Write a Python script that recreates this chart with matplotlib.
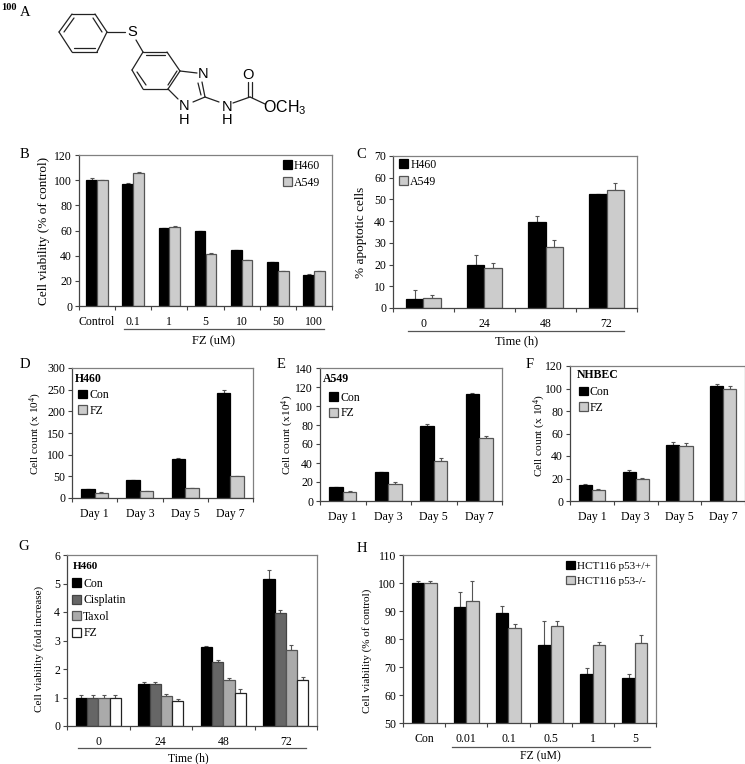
import numpy as np
import matplotlib
matplotlib.use("Agg")
import matplotlib.pyplot as plt

plt.rcParams["font.family"] = ["Liberation Serif", "DejaVu Serif"]
plt.rcParams["mathtext.default"] = "regular"

W, H = 745, 764
BLACK = "#000000"
GRAY = "#cccccc"
AXIS = "#808080"

# panel B
b_labels = ["Control", "0.1", "1", "5", "10", "50", "100"]
b_h460 = [100, 97, 62, 59.5, 44.5, 35, 25]
b_a549 = [100, 106, 63, 41.5, 36.5, 27.5, 27.5]
b_h460_err = [1.5, 1, 0.3, 0.5, 0, 0, 0.5]
b_a549_err = [0, 0.5, 0.5, 0.3, 0.2, 0, 0.5]

# panel C
c_labels = ["0", "24", "48", "72"]
c_h460 = [4, 19.7, 39.7, 52.3]
c_a549 = [4.6, 18.3, 28.3, 54.5]
c_h460_err = [4.2, 4.8, 2.8, 0.3]
c_a549_err = [1.6, 2.2, 3, 3]

days = ["Day 1", "Day 3", "Day 5", "Day 7"]

# panel D
d_con = [20, 41, 91, 242]
d_fz = [12, 16, 22, 50]
d_con_err = [1.5, 0, 1.5, 8]
d_fz_err = [1, 0.5, 0.5, 1.5]

# panel E
e_con = [15, 30.5, 78.5, 113]
e_fz = [10, 18, 42.5, 66]
e_con_err = [0, 0.5, 3, 0.7]
e_fz_err = [0.5, 2, 2.5, 2]

# panel F
f_con = [14.5, 25.5, 50, 102.5]
f_fz = [9.5, 20, 49, 99.5]
f_con_err = [0.5, 1.8, 2.2, 1.8]
f_fz_err = [0.8, 0.5, 3, 3]

# panel G
g_labels = ["0", "24", "48", "72"]
g_con = [1, 1.47, 2.77, 5.17]
g_cis = [1, 1.47, 2.25, 3.95]
g_tax = [1, 1.05, 1.63, 2.65]
g_fz = [1, 0.86, 1.17, 1.63]
g_con_err = [0.1, 0.07, 0.05, 0.32]
g_cis_err = [0.08, 0.07, 0.05, 0.12]
g_tax_err = [0.1, 0.07, 0.07, 0.2]
g_fz_err = [0.09, 0.07, 0.12, 0.1]

# panel H
h_labels = ["Con", "0.01", "0.1", "0.5", "1", "5"]
h_wt = [100, 91.3, 89.3, 78, 67.5, 66]
h_ko = [100, 93.5, 83.8, 84.7, 77.8, 78.7]
h_wt_err = [0.8, 5.5, 2.5, 8.3, 2, 1.5]
h_ko_err = [0.8, 7.3, 1.5, 1.8, 1.2, 2.6]

fig = plt.figure(figsize=(W / 100, H / 100), dpi=100)


def px_axes(left, top, right, bottom):
    return fig.add_axes([left / W, 1 - bottom / H, (right - left) / W, (bottom - top) / H])


def bar_panel(box, labels, series, errs, styles, names, bar_w, ylim, step, ylabel,
              ylabel_x, ylabel_y=None, tick_size=8.5, label_size=9.5):
    ax = px_axes(*box)
    x = np.arange(len(labels))
    n = len(series)
    handles = []
    for i, (vals, err, (fc, ec)) in enumerate(zip(series, errs, styles)):
        pos = x + (i - (n - 1) / 2) * bar_w
        ax.errorbar(pos, vals, yerr=[np.zeros(len(err)), err], fmt="none", ecolor="#555555",
                    elinewidth=0.8, capsize=1.6, capthick=0.8, zorder=1)
        bars = ax.bar(pos, vals, bar_w, color=fc, edgecolor=ec, linewidth=0.9, zorder=2,
                      label=names[i])
        handles.append(bars)
    ax.set_xlim(-0.5, len(labels) - 0.5)
    ax.set_ylim(*ylim)
    ax.set_yticks(np.arange(ylim[0], ylim[1] + step / 2, step))
    ax.set_xticks(np.arange(len(labels) + 1) - 0.5)
    ax.set_xticklabels([])
    ax.set_xticks(x, labels, minor=True)
    ax.tick_params(axis="x", which="minor", length=0, labelsize=tick_size, pad=7)
    ax.tick_params(axis="x", which="major", length=3, width=0.8, color="#444444")
    ax.tick_params(axis="y", length=3, width=0.8, labelsize=tick_size, pad=2, color="#444444")
    for side in ["top", "right"]:
        ax.spines[side].set_color(AXIS)
    for side in ["left", "bottom"]:
        ax.spines[side].set_color("#444444")
    for s in ax.spines.values():
        s.set_linewidth(0.9)
    if ylabel_y is None:
        ylabel_y = (box[1] + box[3]) / 2
    fig.text(ylabel_x / W, 1 - ylabel_y / H, ylabel, rotation=90,
             ha="center", va="center", fontsize=label_size)
    return ax, handles


def add_legend(ax, handles, names, x, y, size=8.5, spacing=0.45):
    ax.legend(handles, names, loc="upper left", bbox_to_anchor=(x, y), frameon=False,
              fontsize=size, handlelength=0.75, handleheight=0.75, handletextpad=0.2,
              labelspacing=spacing, borderpad=0, borderaxespad=0)


def under_label(x0, x1, y, text, text_x, text_y, size=9):
    fig.add_artist(plt.Line2D([x0 / W, x1 / W], [1 - y / H, 1 - y / H], color="#555555", lw=0.9))
    fig.text(text_x / W, 1 - text_y / H, text, ha="center", va="center", fontsize=size)


two = [(BLACK, BLACK), (GRAY, "#555555")]
four = [(BLACK, BLACK), ("#666666", "#444444"), ("#aaaaaa", "#555555"), ("#ffffff", "#222222")]

ax, hs = bar_panel((79, 155, 332, 306), b_labels, [b_h460, b_a549], [b_h460_err, b_a549_err],
                   two, ["H460", "A549"], 0.3, (0, 120), 20, "Cell viability (% of control)", 44)
add_legend(ax, hs, ["H460", "A549"], 0.805, 0.97)
under_label(124, 324, 329, "FZ (uM)", 213, 341)

ax, hs = bar_panel((393, 156, 637, 308), c_labels, [c_h460, c_a549], [c_h460_err, c_a549_err],
                   two, ["H460", "A549"], 0.29, (0, 70), 10, "% apoptotic cells", 361)
add_legend(ax, hs, ["H460", "A549"], 0.025, 0.983)
under_label(408, 624, 331, "Time (h)", 517, 341)

ax, hs = bar_panel((72, 368, 253, 498), days, [d_con, d_fz], [d_con_err, d_fz_err],
                   two, ["Con", "FZ"], 0.3, (0, 300), 50, "Cell count (x 10$^4$)", 36,
                   label_size=8.2)
ax.text(0.018, 0.96, "H460", transform=ax.transAxes, fontweight="bold", fontsize=8.5, va="top")
add_legend(ax, hs, ["Con", "FZ"], 0.035, 0.838, spacing=0.3)

ax, hs = bar_panel((320, 368, 502, 501), days, [e_con, e_fz], [e_con_err, e_fz_err],
                   two, ["Con", "FZ"], 0.3, (0, 140), 20, "Cell count (x10$^4$)", 288,
                   label_size=8.2)
ax.text(0.018, 0.965, "A549", transform=ax.transAxes, fontweight="bold", fontsize=8.5, va="top")
add_legend(ax, hs, ["Con", "FZ"], 0.05, 0.82, spacing=0.3)

ax, hs = bar_panel((570, 366, 745, 501), days, [f_con, f_fz], [f_con_err, f_fz_err],
                   two, ["Con", "FZ"], 0.3, (0, 120), 20, "Cell count (x 10$^4$)", 540,
                   ylabel_y=435, label_size=8.2)
ax.text(0.04, 0.975, "NHBEC", transform=ax.transAxes, fontweight="bold", fontsize=8.5, va="top")
add_legend(ax, hs, ["Con", "FZ"], 0.05, 0.85, spacing=0.3)

ax, hs = bar_panel((67, 555, 317, 726), g_labels, [g_con, g_cis, g_tax, g_fz],
                   [g_con_err, g_cis_err, g_tax_err, g_fz_err], four,
                   ["Con", "Cisplatin", "Taxol", "FZ"], 0.18, (0, 6), 1,
                   "Cell viability (fold increase)", 39, ylabel_y=649, label_size=8)
ax.text(0.025, 0.96, "H460", transform=ax.transAxes, fontweight="bold", fontsize=8, va="top")
add_legend(ax, hs, ["Con", "Cisplatin", "Taxol", "FZ"], 0.02, 0.866, spacing=0.38)
under_label(78, 306, 748, "Time (h)", 188, 758, size=8.5)

ax, hs = bar_panel((403, 555, 656, 723), h_labels, [h_wt, h_ko], [h_wt_err, h_ko_err],
                   two, ["HCT116 p53+/+", "HCT116 p53-/-"], 0.295, (50, 110), 10,
                   "Cell viability (% of control)", 367, ylabel_y=651, label_size=8)
add_legend(ax, hs, ["HCT116 p53+/+", "HCT116 p53-/-"], 0.645, 0.966, size=8, spacing=0.45)
under_label(452, 650, 747, "FZ (uM)", 540, 756, size=8.5)

# panel letters
panel_letters = {"A": (25, 12), "B": (24, 154), "C": (361, 155), "D": (25, 364),
                 "E": (281, 365), "F": (530, 364), "G": (24, 547), "H": (362, 548)}
for name, (lx, ly) in panel_letters.items():
    fig.text(lx / W, 1 - ly / H, name, ha="center", va="center", fontsize=10.5)
fig.text(1 / W, 1 - 7 / H, "100", ha="left", va="center", fontsize=7.5, fontweight="bold")

# structure in panel A, coordinates are image pixels
mol = fig.add_axes([0, 0, 1, 1], zorder=5)
mol.set_xlim(0, W)
mol.set_ylim(H, 0)
mol.axis("off")
bonds = [
    (59, 32, 72, 14), (72, 14, 95, 14), (95, 14, 107, 32), (107, 32, 97, 52), (97, 52, 72, 52),
    (72, 52, 59, 32), (64, 32, 74, 18), (93, 18, 102, 32), (74, 48, 95, 48),
    (107, 32, 125, 32), (136, 40, 143, 52),
    (143, 52, 167, 52), (167, 52, 180, 71), (180, 71, 168, 89), (168, 89, 143, 89),
    (143, 89, 132, 70), (132, 70, 143, 52), (146, 55, 165, 55), (137, 72, 146, 85),
    (168, 85, 177, 71),
    (180, 71, 197, 73), (168, 89, 178, 99), (193, 102, 205, 97), (202, 82, 205, 97),
    (198, 83, 201, 95), (205, 97, 219, 102), (233, 103, 250, 97), (252, 97, 252, 82),
    (248, 97, 248, 82), (250, 97, 265, 104),
]
for x0, y0, x1, y1 in bonds:
    mol.plot([x0, x1], [y0, y1], color="#222222", lw=0.9, solid_capstyle="round")
atoms = [("S", 132, 32), ("N", 203, 74), ("N", 184, 106), ("H", 184, 120), ("N", 227, 107),
         ("H", 227, 120), ("O", 248, 75)]
for t, ax_x, ax_y in atoms:
    mol.text(ax_x, ax_y, t, ha="center", va="center", fontsize=10.5, family="Liberation Sans")
mol.text(263, 108, "OCH$_3$", ha="left", va="center", fontsize=11.5, family="Liberation Sans")

fig.savefig("out.png", dpi=100)
